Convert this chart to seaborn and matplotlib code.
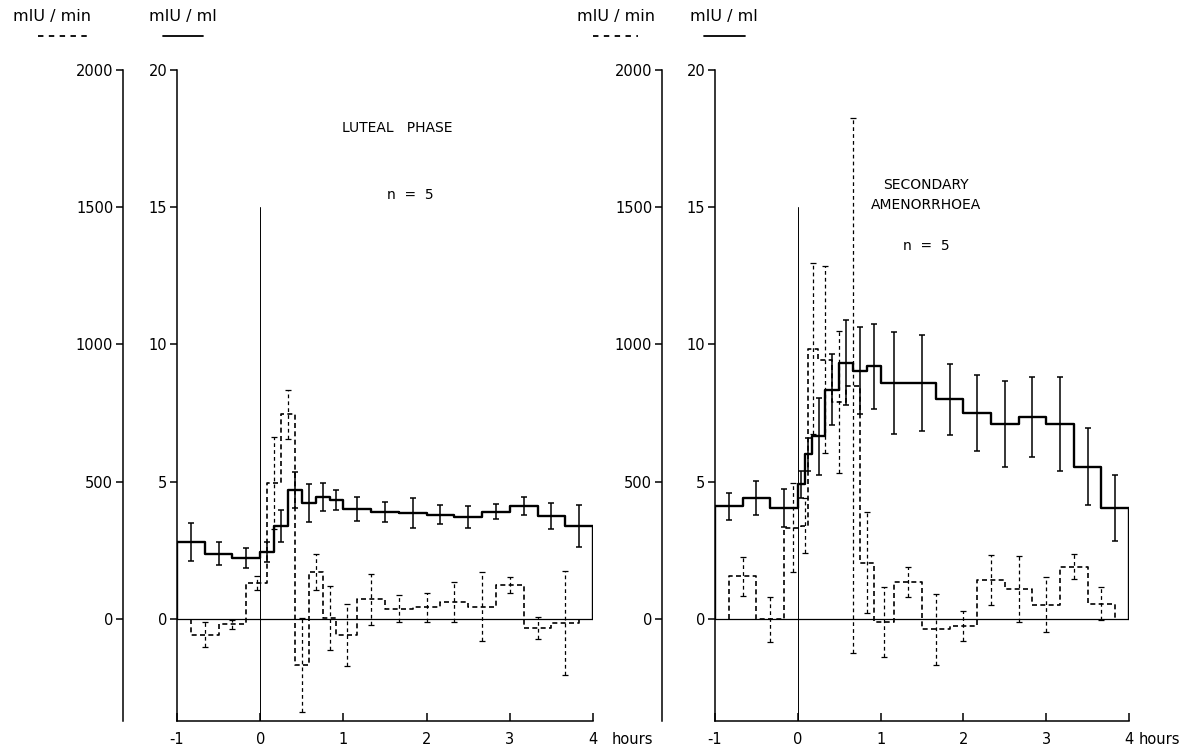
import numpy as np
import pandas as pd
import matplotlib
matplotlib.use("Agg")
import matplotlib.pyplot as plt
from matplotlib.lines import Line2D
import seaborn as sns

# ---------------- data ----------------
# Luteal phase: LH concentration (mIU/ml), step bins in hours
conc_edges_luteal = [-1, -2/3, -1/3, 0, 1/6, 1/3, 1/2, 2/3, 5/6, 1,
                     4/3, 5/3, 2, 7/3, 8/3, 3, 10/3, 11/3, 4]
conc_luteal = [2.8, 2.37, 2.22, 2.44, 3.4, 4.7, 4.22, 4.45, 4.33, 4.0,
               3.9, 3.86, 3.8, 3.7, 3.9, 4.1, 3.75, 3.38]
conc_se_luteal = [0.69, 0.42, 0.38, 0.38, 0.58, 0.66, 0.69, 0.51, 0.36, 0.44,
                  0.36, 0.55, 0.36, 0.4, 0.27, 0.33, 0.46, 0.77]
# Luteal phase: secretion rate (mIU/min)
rate_edges_luteal = [-5/6, -1/2, -1/6, 1/12, 1/4, 5/12, 7/12, 3/4, 11/12,
                     7/6, 3/2, 11/6, 13/6, 5/2, 17/6, 19/6, 7/2, 23/6]
rate_luteal = [-57, -20, 132, 495, 745, -168, 171, 3, -57,
               72, 37, 43, 62, 45, 122, -33, -15]
rate_se_luteal = [44, 15, 26, 168, 88, 173, 66, 118, 113,
                  93, 49, 53, 73, 127, 29, 40, 190]

# Secondary amenorrhoea
conc_edges_amen = [-1, -2/3, -1/3, 0, 1/12, 1/6, 1/3, 1/2, 2/3, 5/6, 1,
                   4/3, 5/3, 2, 7/3, 8/3, 3, 10/3, 11/3, 4]
conc_amen = [4.1, 4.4, 4.05, 4.9, 6.0, 6.65, 8.35, 9.33, 9.05, 9.2,
             8.6, 8.6, 8.0, 7.5, 7.1, 7.35, 7.1, 5.55, 4.05]
conc_se_amen = [0.49, 0.62, 0.69, 0.5, 0.6, 1.4, 1.3, 1.55, 1.6, 1.55,
                1.85, 1.75, 1.3, 1.37, 1.56, 1.45, 1.7, 1.4, 1.2]
rate_edges_amen = [-5/6, -1/2, -1/6, 1/24, 1/8, 1/4, 5/12, 7/12, 3/4, 11/12,
                   7/6, 3/2, 11/6, 13/6, 5/2, 17/6, 19/6, 7/2, 23/6]
rate_amen = [155, -2, 333, 340, 985, 945, 790, 850, 205, -12,
             135, -38, -25, 142, 110, 52, 190, 55]
rate_se_amen = [70, 83, 162, 100, 310, 340, 260, 975, 184, 127,
                55, 130, 55, 90, 120, 100, 45, 60]

conc_ticks = [0, 5, 10, 15, 20]
rate_ticks = [0, 500, 1000, 1500, 2000]
time_ticks = [-1, 0, 1, 2, 3, 4]

# ---------------- style ----------------
sns.set_style("ticks")
plt.rcParams["font.family"] = ["DejaVu Sans"]
plt.rcParams["axes.linewidth"] = 1.1
for k in ["text.color", "axes.edgecolor", "xtick.color", "ytick.color",
          "axes.labelcolor", "xtick.labelcolor", "ytick.labelcolor"]:
    plt.rcParams[k] = "black"

W, H = 1195, 751
fig = plt.figure(figsize=(W / 100, H / 100), dpi=100)

def fx(px):
    return px / W

def fy(py):
    return 1 - py / H

Y_TOP, Y_BOT = 70, 721
YMIN, YMAX = -3.72, 20
FS = 10.5
XPAD = 8


def steps_df(edges, vals):
    xs = [edges[0]] + list(edges[:-1]) + [edges[-1], edges[-1]]
    ys = [0] + list(vals) + [vals[-1], 0]
    return pd.DataFrame({"t": xs, "v": ys})


def centers(edges):
    return [(a + b) / 2 for a, b in zip(edges[:-1], edges[1:])]


def panel(px_outer, px_left, px_right, ce, cv, cs, re, rv, rs, title_lines, title_xy, n_xy, hours_x):
    bottom = fy(Y_BOT)
    height = fy(Y_TOP) - bottom
    # outer (mIU/min) axis
    axo = fig.add_axes([fx(px_outer), bottom, 0.0005, height])
    axo.set_ylim(YMIN * 100, YMAX * 100)
    axo.set_yticks(rate_ticks)
    axo.set_yticklabels([str(v) for v in rate_ticks], fontsize=FS)
    axo.set_xticks([])
    for s in ["top", "right", "bottom"]:
        axo.spines[s].set_visible(False)
    axo.tick_params(axis="y", direction="out", length=5, width=1.1, pad=2)
    axo.patch.set_alpha(0)

    # main (mIU/ml) axis
    ax = fig.add_axes([fx(px_left), bottom, fx(px_right) - fx(px_left), height])
    ax.patch.set_alpha(0)
    ax.set_xlim(-1, 4)
    ax.set_ylim(YMIN, YMAX)
    ax.set_yticks(conc_ticks)
    ax.set_yticklabels([str(v) for v in conc_ticks], fontsize=FS)
    ax.set_xticks(time_ticks)
    ax.set_xticklabels([str(v) for v in time_ticks], fontsize=FS)
    ax.tick_params(axis="y", direction="out", length=5, width=1.1, pad=2)
    ax.tick_params(axis="x", direction="in", length=6, width=1.1, pad=XPAD)
    for s in ["top", "right"]:
        ax.spines[s].set_visible(False)

    # reference lines
    ax.plot([-1, 4], [0, 0], color="black", lw=0.9)
    ax.plot([0, 0], [YMIN, 15], color="black", lw=0.7)

    # concentration step line
    sns.lineplot(data=steps_df(ce, cv), x="t", y="v", ax=ax, estimator=None,
                 sort=False, drawstyle="steps-post", color="black", lw=1.7)
    ax.errorbar(centers(ce), cv, yerr=cs, fmt="none", ecolor="black",
                elinewidth=1.1, capsize=2.3, capthick=1.1)

    # secretion rate (dashed) on hidden twin axis
    axr = ax.twinx()
    axr.set_ylim(YMIN * 100, YMAX * 100)
    axr.axis("off")
    sns.lineplot(data=steps_df(re, rv), x="t", y="v", ax=axr, estimator=None,
                 sort=False, drawstyle="steps-post", color="black", lw=1.2,
                 linestyle=(0, (3, 2)))
    eb = axr.errorbar(centers(re), rv, yerr=rs, fmt="none", ecolor="black",
                      elinewidth=0.9, capsize=2.0, capthick=0.9)
    for lc in eb[2]:
        lc.set_linestyle((0, (3, 2.5)))
    ax.set_xlabel("")
    ax.set_ylabel("")
    axr.set_xlabel("")
    axr.set_ylabel("")

    # titles
    ax.text(title_xy[0], title_xy[1], "\n".join(title_lines), ha="center", va="center",
            fontsize=10, linespacing=1.5)
    ax.text(n_xy[0], n_xy[1], "n  =  5", ha="center", va="center", fontsize=10)
    ax.annotate("hours", xy=(hours_x, 0), xycoords=ax.get_xaxis_transform(),
                xytext=(0, -XPAD), textcoords="offset points",
                ha="left", va="top", fontsize=FS)
    return ax


panel(123, 177, 593, conc_edges_luteal, conc_luteal, conc_se_luteal,
      rate_edges_luteal, rate_luteal, rate_se_luteal,
      ["LUTEAL   PHASE"], (1.65, 17.9), (1.8, 15.45), 4.22)
panel(662, 715, 1129, conc_edges_amen, conc_amen, conc_se_amen,
      rate_edges_amen, rate_amen, rate_se_amen,
      ["SECONDARY", "AMENORRHOEA"], (1.55, 15.45), (1.55, 13.6), 4.12)

# unit headers
def header(px_text, text, px_line0, px_line1, dashed):
    fig.text(fx(px_text), fy(16), text, ha="center", va="center", fontsize=11.5)
    ls = (0, (3, 3)) if dashed else "-"
    fig.add_artist(Line2D([fx(px_line0), fx(px_line1)], [fy(36), fy(36)],
                          transform=fig.transFigure, color="black", lw=1.3, linestyle=ls))

header(52, "mIU / min", 38, 90, True)
header(183, "mIU / ml", 163, 203, False)
header(616, "mIU / min", 593, 638, True)
header(724, "mIU / ml", 704, 745, False)

fig.savefig("out.png", dpi=100)
